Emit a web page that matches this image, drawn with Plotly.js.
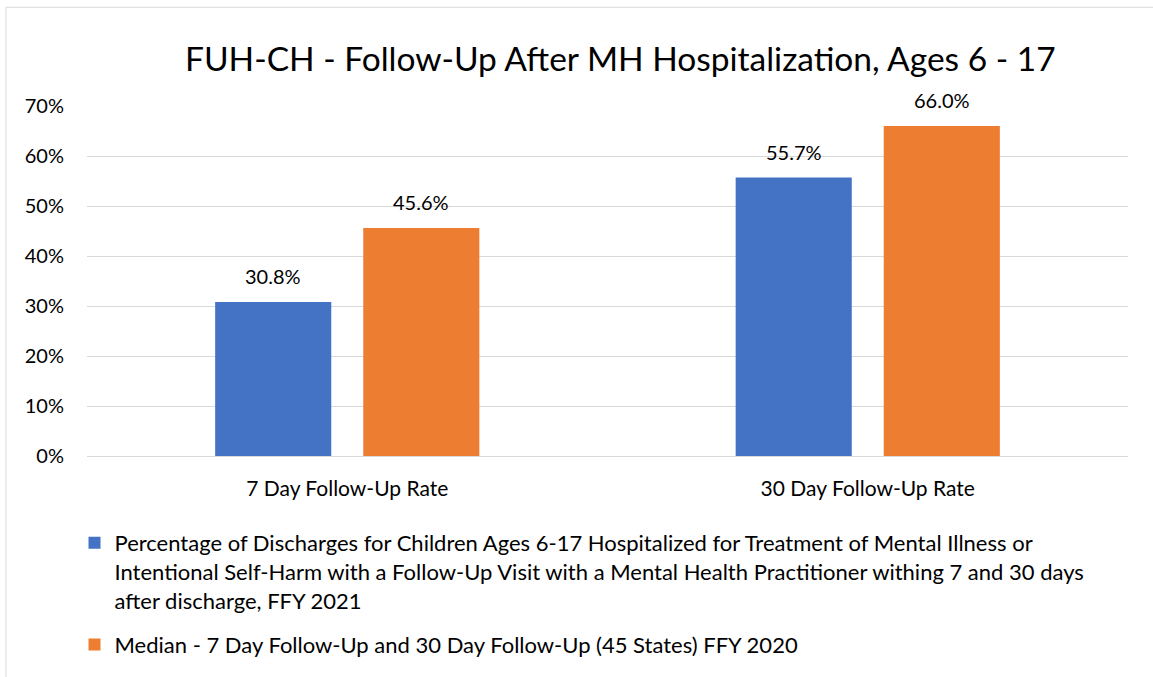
<!DOCTYPE html>
<html><head><meta charset="utf-8">
<script src="https://cdn.plot.ly/plotly-3.0.1.min.js"></script>
<style>html,body{margin:0;padding:0;background:#fff}#chart{width:1153px;height:677px}</style>
</head><body><div id="chart"></div>
<script>
const categories = ["7 Day Follow-Up Rate", "30 Day Follow-Up Rate"];
const stateValues = [30.8, 55.7];
const medianValues = [45.6, 66.0];
const seriesNames = [
  "Percentage of Discharges for Children Ages 6-17 Hospitalized for Treatment of Mental Illness or<br>Intentional Self-Harm with a Follow-Up Visit with a Mental Health Practitioner withing 7 and 30 days<br>after discharge, FFY 2021",
  "Median - 7 Day Follow-Up and 30 Day Follow-Up (45 States) FFY 2020"
];
const yTicks = [0, 10, 20, 30, 40, 50, 60, 70];
const yTickLabels = yTicks.map(v => v + "%");

const FONT = "Lato, 'Open Sans', sans-serif";
const traces = [
  {type: "bar", x: categories, y: stateValues, name: seriesNames[0], legendgroup: "a",
   marker: {color: "#4472C4"}},
  {type: "bar", x: categories, y: medianValues, name: seriesNames[1], legendgroup: "b",
   marker: {color: "#ED7D31"}}
];
// value labels above each bar, offset to the bar's slot within its group
const annotations = [];
[[stateValues, -74], [medianValues, 74]].forEach(([vals, dx]) => {
  vals.forEach((v, i) => {
    annotations.push({x: categories[i], y: v, xref: "x", yref: "y", text: v.toFixed(1) + "%",
      showarrow: false, xshift: dx, yshift: 12, yanchor: "bottom", xanchor: "center",
      font: {size: 20, family: FONT, color: "#000"}});
  });
});
const layout = {
  width: 1153, height: 677,
  margin: {l: 87, r: 25, t: 106, b: 220},
  paper_bgcolor: "#fff", plot_bgcolor: "#fff",
  font: {family: FONT, color: "#000"},
  title: {text: "FUH-CH - Follow-Up After MH Hospitalization, Ages 6 - 17",
          font: {size: 33.5, family: FONT, color: "#000"}, x: 0.538, xanchor: "center", y: 0.912, yanchor: "middle"},
  barmode: "group", bargap: 0.431, bargroupgap: 0.216,
  xaxis: {showgrid: false, zeroline: false, showline: false, ticks: "", ticklabelstandoff: 18,
          tickfont: {size: 21, family: FONT, color: "#000"}},
  yaxis: {range: [0, 70], tickvals: yTicks, ticktext: yTickLabels, showgrid: true,
          gridcolor: "#d9d9d9", gridwidth: 1, zeroline: true, zerolinecolor: "#d9d9d9", zerolinewidth: 1,
          showline: false, ticks: "", ticklabelstandoff: 22,
          tickfont: {size: 20, family: FONT, color: "#000"}},
  showlegend: true,
  legend: {x: -0.012, xanchor: "left", y: -0.185, yanchor: "top", orientation: "v", valign: "top",
           font: {size: 22, family: FONT, color: "#000"}, tracegroupgap: 13,
           itemwidth: 30, bgcolor: "rgba(0,0,0,0)"},
  annotations: annotations,
  shapes: [{type: "rect", xref: "paper", yref: "paper", x0: -0.0778, x1: 1.1, y0: -0.8, y1: 1.282,
            line: {color: "#d9d9d9", width: 1}, fillcolor: "rgba(0,0,0,0)", layer: "below"}]
};
Plotly.newPlot("chart", traces, layout, {displayModeBar: false, staticPlot: true});
</script></body></html>
